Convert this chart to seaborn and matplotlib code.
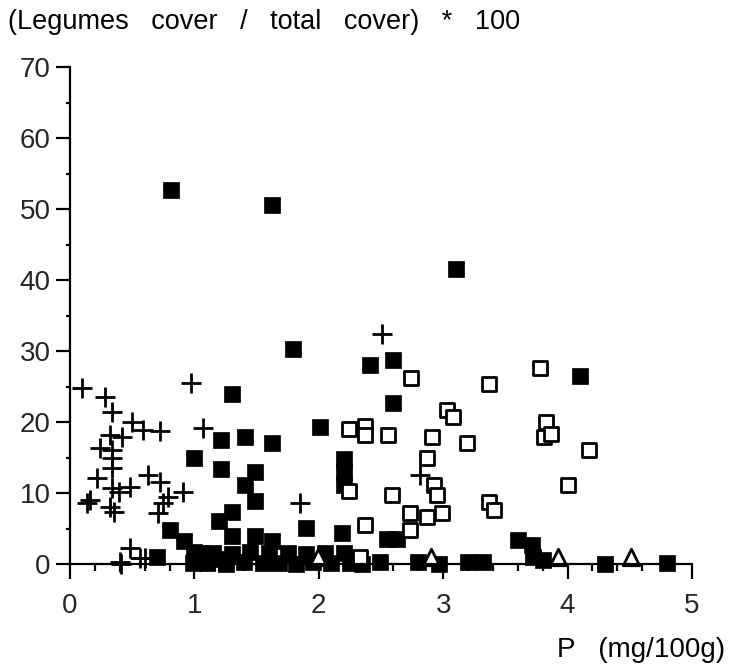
import matplotlib
matplotlib.use("Agg")
import matplotlib.pyplot as plt
import seaborn as sns
import pandas as pd
from matplotlib.ticker import MultipleLocator

sns.set_theme(style="ticks")
plt.rcParams['font.family'] = ['Liberation Sans', 'DejaVu Sans']

# ---- data (P in mg/100g, legume share in %) ----
filled_x = [0.81, 1.62, 3.10, 1.79, 2.41, 2.60, 4.10, 2.60, 1.30, 2.01,
            1.62, 1.21, 1.41, 1.00, 1.21, 1.49, 1.41, 1.49, 1.30, 1.20,
            2.20, 2.20, 2.20, 2.19, 1.90, 0.80, 0.92, 1.00, 0.70,
            2.55, 2.63, 3.60, 3.71, 3.72, 3.80, 4.30, 4.80, 3.32, 3.20,
            2.80, 2.97, 2.49, 0.99, 1.10, 1.18,
            1.30, 1.49, 1.62,
            1.05, 1.15, 1.30, 1.45, 1.60, 1.75, 1.90, 2.05, 2.20,
            1.10, 1.25, 1.40, 1.55, 1.68, 1.82, 1.95, 2.10, 2.25, 2.35]
filled_y = [52.7, 50.6, 41.5, 30.3, 28.0, 28.7, 26.5, 22.7, 23.9, 19.3,
            17.0, 17.5, 17.9, 14.9, 13.4, 13.0, 11.1, 8.9, 7.3, 6.1,
            14.8, 13.0, 11.1, 4.4, 5.1, 4.8, 3.2, 1.7, 1.0,
            3.5, 3.5, 3.4, 2.7, 1.0, 0.6, 0.0, 0.1, 0.3, 0.3,
            0.3, 0.0, 0.3, 0.1, 0.3, 0.7,
            3.9, 3.9, 3.2,
            1.5, 1.6, 1.4, 1.7, 1.5, 1.6, 1.4, 1.5, 1.6,
            0.2, 0.0, 0.3, 0.1, 0.2, 0.0, 0.3, 0.1, 0.2, 0.0]

open_x = [2.74, 3.37, 3.78, 3.03, 3.08, 2.24, 2.37, 2.37, 2.56, 2.91,
          3.19, 3.83, 3.81, 3.87, 4.17, 2.87, 2.93, 2.95, 2.24, 2.59,
          4.00, 3.37, 3.41, 2.73, 2.87, 2.99, 2.73, 2.37, 2.33]
open_y = [26.2, 25.4, 27.6, 21.7, 20.7, 19.0, 19.4, 18.2, 18.2, 17.9,
          17.0, 20.0, 17.9, 18.3, 16.1, 14.9, 11.1, 9.7, 10.3, 9.7,
          11.1, 8.7, 7.6, 7.2, 6.6, 7.2, 4.8, 5.5, 1.0]

plus_x = [0.10, 0.97, 0.28, 0.34, 0.50, 0.59, 0.72, 0.32, 0.42, 1.07,
          0.24, 0.34, 0.34, 0.34, 0.22, 0.63, 0.72, 0.34, 0.39, 0.48,
          0.16, 0.14, 0.32, 0.35, 0.79, 0.75, 0.71, 0.91, 0.48, 0.56,
          0.60, 0.40, 0.41, 2.51, 2.81, 1.85]
plus_y = [24.8, 25.5, 23.5, 21.4, 20.0, 18.9, 18.7, 18.2, 17.9, 19.2,
          16.4, 16.1, 14.9, 13.5, 12.1, 12.5, 11.5, 10.7, 10.1, 10.8,
          9.0, 8.6, 8.0, 7.3, 9.4, 8.6, 7.2, 10.1, 2.3, 0.8,
          0.8, 0.3, 0.0, 32.4, 12.5, 8.6]

tri_x = [1.99, 2.90, 3.92, 4.51]
tri_y = [1.0, 1.0, 1.0, 1.0]

x_ticks = [0, 1, 2, 3, 4, 5]
y_ticks = [0, 10, 20, 30, 40, 50, 60, 70]

# ---- figure ----
fig = plt.figure(figsize=(7.3, 6.68), dpi=100)
ax = fig.add_axes([70 / 730, 104 / 668, 622 / 730, 497 / 668])

df_f = pd.DataFrame({"P": filled_x, "L": filled_y})
df_o = pd.DataFrame({"P": open_x, "L": open_y})
df_p = pd.DataFrame({"P": plus_x, "L": plus_y})
df_t = pd.DataFrame({"P": tri_x, "L": tri_y})

sns.scatterplot(data=df_f, x="P", y="L", ax=ax, marker="s", s=135,
                color="black", edgecolor="black", linewidth=0.5,
                clip_on=False, zorder=3)
sns.scatterplot(data=df_o, x="P", y="L", ax=ax, marker="s", s=90,
                facecolor="white", edgecolor="black", linewidth=2.0,
                clip_on=False, zorder=4)
sns.scatterplot(data=df_p, x="P", y="L", ax=ax, marker="+", s=200,
                color="black", linewidth=2.0, clip_on=False, zorder=5)
sns.scatterplot(data=df_t, x="P", y="L", ax=ax, marker="^", s=140,
                facecolor="white", edgecolor="black", linewidth=2.0,
                clip_on=False, zorder=4)

ax.set_xlim(0, 5)
ax.set_ylim(0, 70)
ax.set_xticks(x_ticks)
ax.set_yticks(y_ticks)
ax.set_xticklabels([str(v) for v in x_ticks])
ax.set_yticklabels([str(v) for v in y_ticks])
ax.xaxis.set_minor_locator(MultipleLocator(0.2))
ax.yaxis.set_minor_locator(MultipleLocator(5))

for s in ["top", "right"]:
    ax.spines[s].set_visible(False)
for s in ["left", "bottom"]:
    ax.spines[s].set_linewidth(1.6)
    ax.spines[s].set_color("black")
    ax.spines[s].set_zorder(6)

ax.tick_params(axis="x", which="major", direction="out", length=11,
               width=1.6, color="black", labelsize=20, pad=10)
ax.tick_params(axis="x", which="minor", direction="out", length=5,
               width=1.6, color="black")
ax.tick_params(axis="y", which="major", direction="out", length=10,
               width=1.6, color="black", labelsize=20, pad=4)
ax.tick_params(axis="y", which="minor", direction="out", length=3,
               width=1.6, color="black")
ax.set_xlabel("")
ax.set_ylabel("")

fig.text(8 / 730, 1 - 22 / 668, "(Legumes   cover   /   total   cover)   *   100",
         fontsize=19.5, ha="left", va="center", color="black")
fig.text(725 / 730, 1 - 650 / 668, "P   (mg/100g)", fontsize=20,
         ha="right", va="center", color="black")

fig.savefig("out.png", dpi=100, facecolor="white")
